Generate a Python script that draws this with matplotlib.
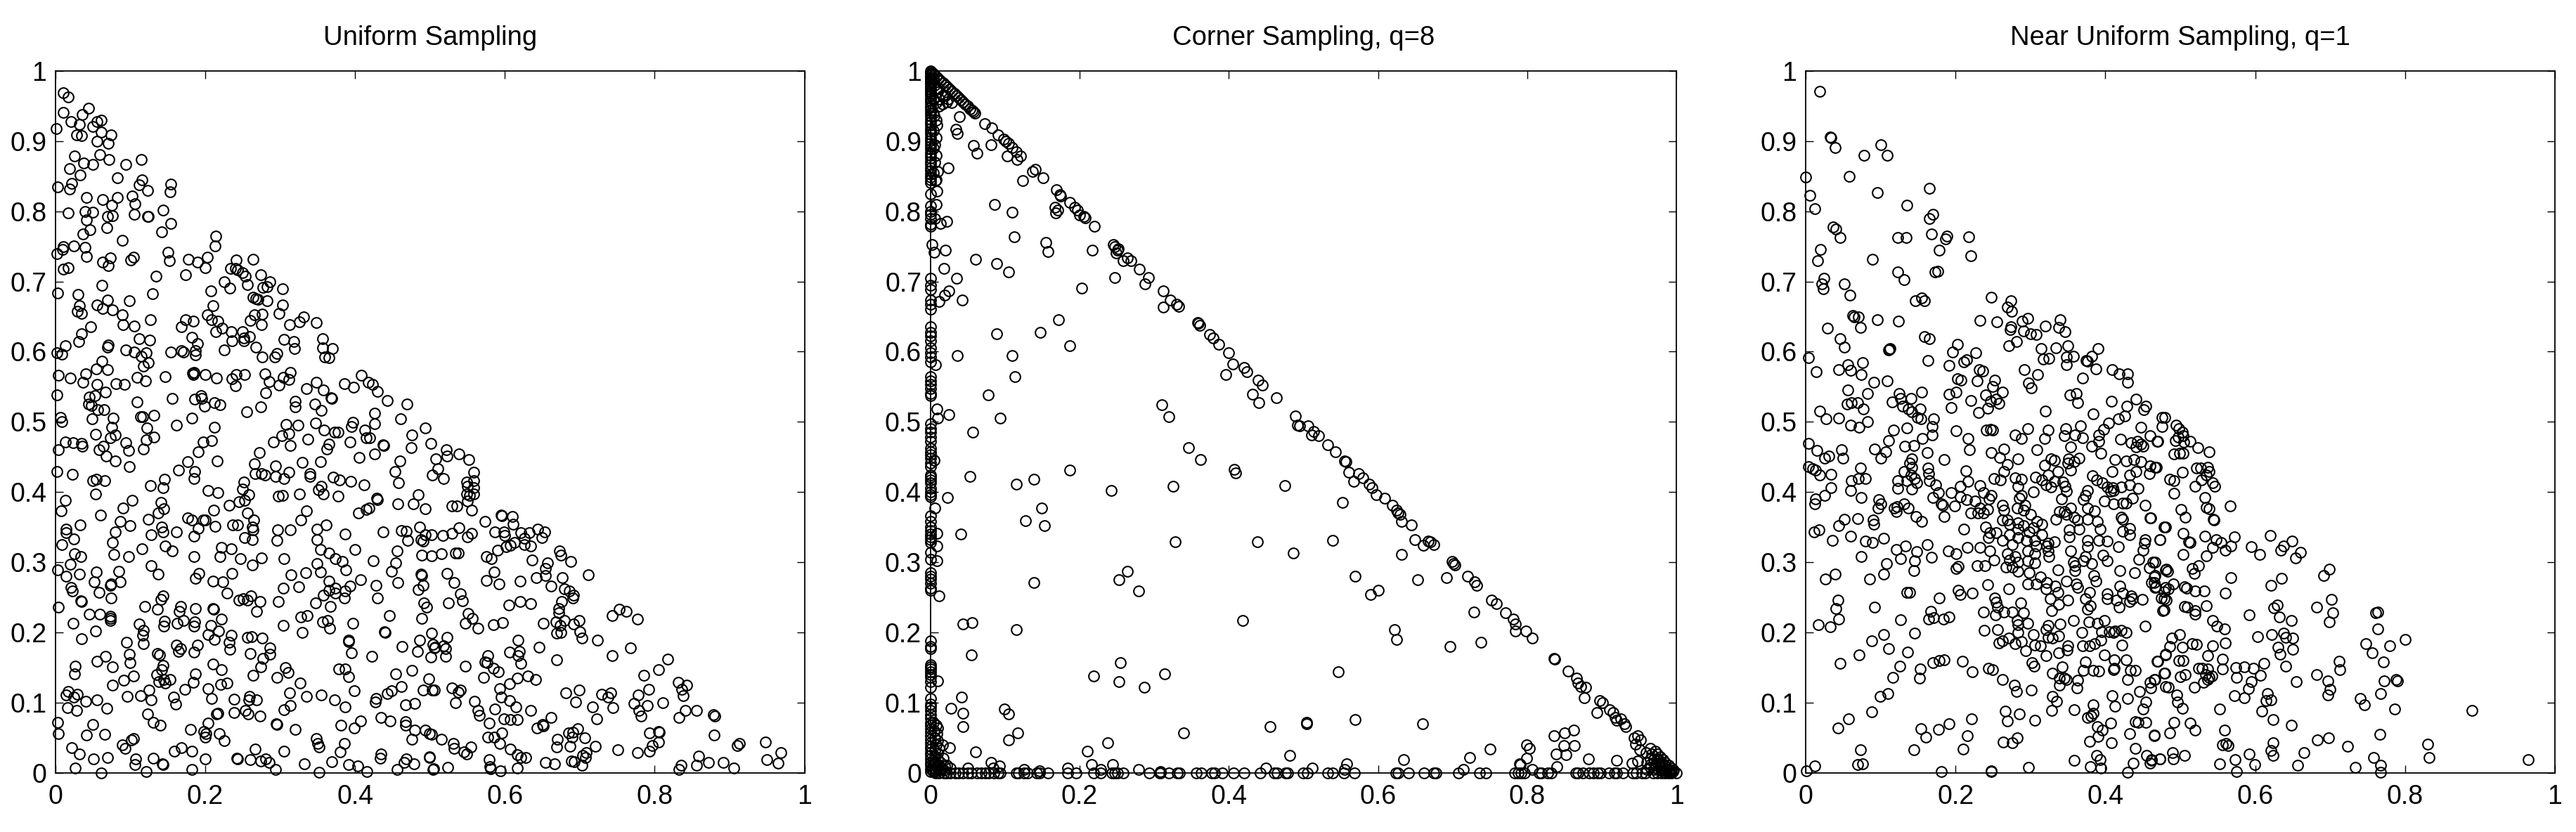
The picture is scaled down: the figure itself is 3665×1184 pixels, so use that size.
import numpy as np
from matplotlib import pyplot as plt

plt.rcParams['font.family'] = ['Liberation Sans', 'DejaVu Sans']

titles = ['Uniform Sampling', 'Corner Sampling, q=8', 'Near Uniform Sampling, q=1']
x_ticks = [0, 0.2, 0.4, 0.6, 0.8, 1]
y_ticks = [0, 0.1, 0.2, 0.3, 0.4, 0.5, 0.6, 0.7, 0.8, 0.9, 1]
x_tick_labels = ['0', '0.2', '0.4', '0.6', '0.8', '1']
y_tick_labels = ['0', '0.1', '0.2', '0.3', '0.4', '0.5', '0.6', '0.7', '0.8', '0.9', '1']

# values (x, y)
uniform_pts = [
(.011,.969),(.017,.963),(.011,.941),(.036,.938),(.044,.947),(.021,.928),(.032,.924),(.001,.918),(.028,.909),(.035,.908),
(.050,.921),(.056,.928),(.061,.930),(.061,.913),(.074,.909),(.056,.900),(.071,.897),(.059,.881),(.072,.874),(.026,.879),
(.038,.869),(.050,.867),(.019,.861),(.033,.852),(.022,.840),(.019,.832),(.003,.835),(.094,.867),(.115,.874),(.083,.848),
(.116,.845),(.112,.838),(.123,.830),(.154,.839),(.153,.828),(.103,.822),(.106,.811),(.042,.820),(.063,.817),(.083,.820),
(.075,.809),(.017,.798),(.040,.800),(.050,.799),(.070,.793),(.076,.794),(.105,.796),(.123,.793),(.124,.793),(.144,.802),
(.042,.788),(.069,.777),(.154,.783),(.046,.774),(.037,.768),(.142,.771),(.089,.759),(.214,.765),(.213,.751),(.025,.751),
(.040,.749),(.011,.750),(.010,.746),(.002,.740),(.042,.736),(.150,.742),(.073,.734),(.104,.735),(.101,.731),(.063,.728),
(.071,.723),(.152,.730),(.178,.732),(.190,.728),(.203,.735),(.200,.720),(.017,.720),(.011,.718),(.241,.731),(.264,.732),
(.234,.719),(.240,.719),(.243,.717),(.250,.713),(.254,.708),(.174,.710),(.134,.708),(.274,.710),(.286,.700),(.225,.700),
(.256,.696),(.233,.691),(.283,.693),(.277,.692),(.303,.690),(.062,.695),(.003,.684),(.030,.682),(.208,.687),(.130,.683),
(.264,.678),(.268,.676),(.270,.675),(.283,.673),(.070,.674),(.099,.673),(.032,.666),(.056,.667),(.063,.662),(.076,.660),
(.210,.666),(.303,.667),(.299,.655),(.029,.658),(.035,.655),(.089,.653),(.203,.653),(.266,.653),(.276,.654),(.209,.646),
(.174,.646),(.184,.644),(.127,.646),(.217,.644),(.260,.645),(.331,.650),(.326,.642),(.348,.641),(.313,.638),(.275,.638),
(.090,.638),(.105,.636),(.168,.635),(.047,.635),(.223,.633),(.214,.628),(.235,.628),(.250,.628),(.035,.625),(.182,.620),
(.112,.618),(.259,.621),(.252,.619),(.252,.615),(.236,.615),(.031,.614),(.126,.616),(.305,.617),(.357,.618),(.318,.614),
(.013,.608),(.071,.609),(.070,.606),(.190,.611),(.002,.598),(.009,.596),(.319,.604),(.357,.605),(.370,.604),(.225,.602),
(.268,.606),(.094,.602),(.105,.599),(.121,.598),(.115,.593),(.154,.599),(.168,.601),(.171,.599),(.187,.601),(.187,.595),
(.296,.597),(.293,.592),(.276,.592),(.360,.592),(.365,.591),(.062,.586),(.124,.584),(.118,.579),(.055,.575),(.070,.574),
(.041,.568),(.185,.570),(.184,.567),(.183,.569),(.200,.567),(.004,.566),(.020,.562),(.147,.564),(.109,.563),(.215,.562),
(.241,.567),(.253,.567),(.236,.561),(.280,.568),(.314,.570),(.304,.563),(.408,.566),(.312,.560),(.285,.557),(.037,.556),
(.120,.558),(.056,.553),(.081,.554),(.092,.553),(.240,.551),(.299,.552),(.348,.556),(.386,.554),(.418,.556),(.398,.549),
(.423,.553),(.335,.547),(.358,.545),(.430,.543),(.067,.542),(.053,.537),(.281,.541),(.002,.538),(.045,.535),(.368,.534),
(.369,.533),(.156,.533),(.194,.537),(.195,.533),(.186,.532),(.443,.530),(.109,.528),(.212,.527),(.199,.522),(.220,.524),
(.320,.529),(.320,.521),(.346,.525),(.469,.525),(.044,.525),(.048,.523),(.057,.517),(.065,.517),(.355,.516),(.274,.521),
(.255,.514),(.426,.512),(.114,.507),(.132,.509),(.049,.504),(.007,.506),(.009,.500),(.077,.505),(.117,.507),(.122,.491),
(.162,.495),(.182,.505),(.212,.492),(.075,.492),(.054,.482),(.080,.481),(.073,.477),(.132,.478),(.121,.474),(.013,.471),
(.024,.470),(.035,.469),(.036,.465),(.094,.470),(.004,.460),(.064,.465),(.058,.460),(.098,.459),(.118,.461),(.068,.451),
(.080,.444),(.197,.471),(.209,.473),(.191,.457),(.177,.443),(.216,.444),(.099,.436),(.272,.456),(.266,.440),(.291,.471),
(.302,.480),(.308,.496),(.312,.483),(.314,.466),(.324,.495),(.337,.475),(.347,.498),(.359,.488),(.365,.468),(.362,.461),
(.373,.485),(.377,.485),(.330,.442),(.354,.443),(.397,.499),(.395,.493),(.393,.471),(.406,.449),(.413,.488),(.415,.477),
(.420,.477),(.426,.497),(.426,.454),(.437,.467),(.438,.466),(.461,.504),(.476,.481),(.475,.463),(.494,.491),(.501,.469),
(.460,.444),(.453,.429),(.458,.413),(.508,.447),(.503,.424),(.002,.429),(.023,.425),(.050,.416),(.055,.418),(.066,.416),
(.054,.397),(.164,.431),(.186,.429),(.185,.419),(.146,.418),(.144,.406),(.127,.409),(.204,.402),(.217,.399),(.252,.414),
(.250,.404),(.258,.396),(.253,.388),(.245,.386),(.232,.381),(.267,.426),(.275,.426),(.280,.424),(.294,.437),(.294,.422),
(.305,.419),(.312,.428),(.298,.394),(.303,.395),(.326,.397),(.340,.426),(.340,.422),(.351,.403),(.355,.408),(.358,.397),
(.371,.421),(.379,.417),(.377,.394),(.394,.415),(.412,.410),(.429,.391),(.430,.389),(.419,.377),(.415,.375),(.405,.370),
(.457,.383),(.478,.383),(.484,.396),(.494,.376),(.335,.373),(.328,.360),(.013,.388),(.008,.373),(.060,.367),(.090,.377),
(.103,.388),(.141,.385),(.145,.376),(.137,.370),(.211,.374),(.124,.361),(.087,.358),(.177,.363),(.182,.360),(.197,.360),
(.200,.360),(.256,.370),(.265,.360),(.263,.350),(.264,.346),(.033,.353),(.100,.352),(.237,.353),(.243,.353),(.213,.351),
(.191,.348),(.142,.350),(.144,.343),(.162,.343),(.080,.343),(.014,.347),(.014,.342),(.128,.339),(.185,.337),(.297,.346),
(.314,.346),(.349,.347),(.387,.340),(.361,.353),(.437,.343),(.462,.345),(.468,.344),(.486,.350),(.494,.339),(.502,.339),
(.470,.331),(.488,.332),(.491,.330),(.025,.333),(.009,.325),(.076,.328),(.253,.335),(.263,.332),(.296,.331),(.349,.332),
(.147,.323),(.156,.316),(.116,.319),(.222,.321),(.235,.319),(.354,.318),(.400,.318),(.456,.316),(.026,.312),(.078,.311),
(.034,.308),(.098,.308),(.185,.308),(.220,.308),(.247,.305),(.275,.306),(.305,.305),(.365,.313),(.374,.305),(.383,.301),
(.424,.302),(.489,.310),(.502,.309),(.020,.297),(.128,.295),(.263,.296),(.349,.298),(.454,.299),(.388,.289),(.003,.289),
(.014,.280),(.032,.283),(.055,.286),(.085,.287),(.137,.283),(.192,.284),(.187,.277),(.236,.284),(.315,.282),(.334,.285),
(.354,.286),(.449,.287),(.488,.283),(.489,.281),(.052,.272),(.073,.267),(.074,.269),(.087,.272),(.210,.273),(.224,.272),
(.365,.273),(.407,.275),(.457,.271),(.428,.267),(.491,.267),(.484,.261),(.393,.266),(.325,.265),(.304,.263),(.021,.264),
(.023,.259),(.058,.257),(.229,.256),(.374,.263),(.365,.260),(.374,.256),(.358,.253),(.387,.259),(.386,.249),(.144,.252),
(.141,.247),(.261,.252),(.074,.249),(.430,.249),(.245,.246),(.251,.248),(.256,.246),(.034,.245),(.035,.244),(.273,.244),
(.298,.244),(.347,.242),(.492,.242),(.496,.236),(.004,.236),(.119,.237),(.136,.233),(.167,.237),(.165,.230),(.187,.234),
(.210,.234),(.211,.233),(.367,.237),(.269,.230),(.045,.226),(.059,.226),(.073,.223),(.073,.220),(.073,.217),(.328,.222),
(.336,.224),(.446,.224),(.222,.219),(.171,.217),(.163,.213),(.186,.215),(.146,.216),(.489,.220),(.357,.215),(.363,.217),
(.397,.213),(.024,.213),(.112,.212),(.145,.209),(.185,.209),(.208,.210),(.304,.210),(.366,.206),(.439,.201),(.440,.200),
(.118,.203),(.218,.202),(.054,.202),(.330,.200),(.502,.199),(.117,.196),(.204,.197),(.235,.196),(.212,.190),(.256,.193),
(.262,.194),(.276,.192),(.035,.191),(.391,.189),(.095,.186),(.118,.184),(.232,.186),(.486,.189),(.391,.187),(.162,.182),
(.190,.182),(.167,.177),(.164,.173),(.286,.178),(.233,.176),(.185,.172),(.463,.180),(.507,.179),(.483,.173),(.260,.170),
(.099,.169),(.136,.170),(.139,.168),(.395,.171),(.286,.169),(.067,.166),(.422,.166),(.501,.165),(.277,.163),(.056,.159),
(.100,.157),(.144,.153),(.027,.152),(.274,.151),(.076,.151),(.210,.155),(.026,.141),(.307,.150),(.311,.143),(.378,.148),
(.387,.148),(.391,.137),(.222,.147),(.476,.146),(.142,.147),(.135,.140),(.104,.138),(.187,.141),(.264,.139),(.296,.136),
(.454,.141),(.145,.133),(.153,.133),(.138,.130),(.147,.128),(.091,.132),(.498,.134),(.184,.129),(.221,.126),(.229,.128),
(.076,.125),(.327,.128),(.462,.123),(.204,.120),(.173,.119),(.125,.118),(.491,.118),(.313,.114),(.399,.117),(.449,.117),
(.443,.113),(.503,.118),(.017,.116),(.014,.111),(.029,.112),(.025,.108),(.114,.110),(.096,.109),(.158,.108),(.259,.109),
(.258,.104),(.269,.104),(.239,.105),(.355,.111),(.335,.109),(.209,.106),(.428,.106),(.427,.101),(.373,.104),(.128,.104),
(.041,.102),(.056,.104),(.161,.098),(.480,.099),(.467,.097),(.016,.093),(.069,.092),(.028,.089),(.387,.094),(.314,.096),
(.305,.090),(.254,.089),(.123,.084),(.239,.086),(.257,.084),(.215,.084),(.217,.085),(.273,.081),(.435,.079),(.447,.074),
(.407,.074),(.003,.072),(.131,.072),(.204,.071),(.467,.073),(.467,.068),(.050,.069),(.140,.068),(.295,.070),(.296,.069),
(.381,.068),(.399,.064),(.180,.062),(.320,.062),(.480,.061),(.494,.061),(.499,.056),(.502,.055),(.476,.048),(.004,.056),
(.066,.055),(.042,.054),(.198,.059),(.201,.056),(.200,.051),(.219,.056),(.225,.046),(.104,.049),(.102,.047),(.348,.049),
(.350,.042),(.352,.037),(.089,.040),(.093,.035),(.386,.042),(.022,.036),(.032,.027),(.159,.031),(.168,.036),(.182,.031),
(.267,.034),(.305,.031),(.380,.030),(.051,.020),(.070,.022),(.107,.020),(.131,.021),(.200,.020),(.242,.021),(.243,.020),
(.260,.019),(.274,.017),(.281,.020),(.285,.015),(.435,.027),(.434,.021),(.468,.020),(.499,.023),(.106,.012),(.143,.013),
(.144,.012),(.332,.013),(.369,.016),(.391,.012),(.404,.010),(.466,.015),(.479,.013),(.027,.007),(.061,.000),(.121,.002),
(.182,.005),(.294,.005),(.352,.001),(.416,.002),(.456,.005),(.504,.005),(.522,.460),(.523,.451),(.539,.454),(.552,.446),
(.511,.433),(.518,.419),(.558,.428),(.549,.414),(.558,.416),(.550,.408),(.558,.406),(.549,.397),(.558,.397),(.553,.395),
(.550,.387),(.556,.374),(.529,.380),(.536,.380),(.573,.358),(.595,.367),(.596,.366),(.610,.365),(.611,.354),(.539,.349),
(.529,.341),(.556,.341),(.550,.336),(.517,.338),(.587,.343),(.599,.343),(.600,.338),(.621,.342),(.633,.342),(.644,.347),
(.653,.343),(.649,.335),(.626,.334),(.626,.325),(.634,.323),(.613,.328),(.607,.324),(.602,.322),(.590,.317),(.673,.316),
(.675,.310),(.688,.301),(.515,.312),(.534,.313),(.538,.313),(.575,.308),(.582,.305),(.636,.303),(.657,.299),(.654,.291),
(.711,.282),(.523,.284),(.586,.286),(.642,.278),(.654,.281),(.677,.278),(.575,.274),(.592,.269),(.620,.273),(.532,.271),
(.662,.266),(.679,.262),(.686,.259),(.692,.253),(.691,.249),(.541,.255),(.543,.245),(.525,.242),(.676,.244),(.605,.239),
(.620,.244),(.634,.241),(.753,.233),(.762,.230),(.743,.224),(.777,.219),(.672,.234),(.672,.228),(.551,.227),(.557,.220),
(.547,.213),(.564,.206),(.585,.211),(.597,.214),(.651,.213),(.668,.215),(.679,.217),(.674,.210),(.699,.217),(.692,.212),
(.700,.201),(.703,.192),(.669,.199),(.675,.200),(.724,.189),(.523,.193),(.618,.189),(.768,.178),(.646,.179),(.504,.183),
(.506,.178),(.518,.181),(.521,.177),(.606,.172),(.619,.173),(.743,.167),(.521,.166),(.618,.167),(.577,.167),(.669,.161),
(.573,.158),(.576,.157),(.817,.162),(.621,.156),(.547,.152),(.585,.149),(.591,.144),(.805,.147),(.631,.138),(.641,.133),
(.617,.135),(.572,.136),(.606,.127),(.785,.139),(.831,.129),(.843,.125),(.836,.119),(.838,.110),(.593,.120),(.792,.119),
(.529,.121),(.541,.118),(.538,.115),(.506,.118),(.699,.118),(.681,.114),(.729,.112),(.741,.114),(.738,.108),(.595,.108),
(.778,.111),(.559,.102),(.534,.100),(.606,.103),(.694,.101),(.772,.099),(.811,.100),(.790,.096),(.615,.094),(.717,.094),
(.744,.093),(.779,.089),(.564,.089),(.587,.091),(.634,.089),(.841,.089),(.856,.089),(.566,.082),(.782,.081),(.832,.079),
(.878,.083),(.880,.081),(.662,.079),(.599,.077),(.607,.076),(.617,.076),(.723,.077),(.579,.071),(.650,.069),(.643,.064),
(.651,.067),(.805,.059),(.806,.058),(.697,.063),(.793,.057),(.685,.057),(.691,.058),(.690,.051),(.596,.057),(.707,.050),
(.515,.048),(.577,.051),(.586,.051),(.670,.048),(.879,.054),(.805,.044),(.913,.042),(.910,.039),(.948,.044),(.531,.042),
(.532,.035),(.555,.037),(.593,.042),(.669,.037),(.687,.038),(.721,.038),(.797,.039),(.607,.034),(.751,.033),(.777,.029),
(.793,.031),(.545,.030),(.549,.027),(.968,.029),(.617,.026),(.621,.022),(.628,.022),(.709,.029),(.704,.025),(.708,.022),
(.859,.024),(.499,.022),(.579,.019),(.950,.019),(.872,.015),(.891,.015),(.965,.014),(.654,.015),(.666,.013),(.689,.017),
(.693,.016),(.835,.011),(.856,.011),(.524,.008),(.703,.011),(.580,.009),(.906,.007),(.505,.006),(.617,.007),(.581,.006),
(.832,.005),(.594,.003),
]

# corner panel: points sitting on the left edge (y), on the bottom edge (x), and the rest
corner_left_y = [
1.000,.998,.996,.994,.991,.989,.986,.983,.980,.977,.974,.971,.968,.965,.961,.958,.955,.951,.948,.944,.940,.936,.931,.927,
.923,.918,.914,.910,.905,.901,.897,.893,.889,.884,.880,.876,.871,.867,.862,.858,.853,.849,.845,.841,.825,.808,.800,.796,
.790,.782,.779,.705,.695,.689,.674,.668,.661,.635,.627,.622,.615,.605,.598,.592,.585,.564,.558,.553,.547,.540,.537,.497,
.490,.485,.478,.472,.462,.457,.453,.448,.441,.436,.424,.421,.417,.413,.405,.400,.396,.393,.366,.358,.350,.345,.340,.336,
.332,.328,.314,.304,.285,.280,.276,.270,.263,.260,.188,.180,.177,.154,.151,.148,.144,.140,.136,.130,.122,.106,.098,.094,
.089,.083,.078,.072,.068,.063,.058,.053,.048,.043,.038,.034,.029,.025,.020,.015,.011,.006,.002,
]
corner_bottom_x = [
.007,.012,.018,.022,.027,.033,.038,.044,.050,.055,.063,.068,.074,.079,.085,.091,.094,.115,.118,.126,.130,.143,.146,.158,
.184,.195,.219,.228,.243,.247,.251,.258,.293,.307,.308,.320,.331,.334,.356,.363,.377,.381,.391,.406,.420,.442,.461,.465,
.476,.479,.500,.505,.533,.539,.554,.568,.624,.627,.641,.662,.675,.678,.708,.736,.744,.783,.788,.792,.796,.816,.819,.827,
.832,.865,.868,.874,.883,.889,.894,.898,.909,.917,.920,.928,.941,.946,.954,.958,.969,.974,.980,.985,.989,.993,1.000,
]
corner_pts = [
(.003,.997),(.005,.995),(.008,.992),(.011,.989),(.014,.986),(.017,.983),(.020,.980),(.023,.977),(.026,.974),(.029,.971),
(.032,.968),(.035,.965),(.038,.962),(.041,.959),(.044,.956),(.047,.953),(.050,.950),(.053,.946),(.056,.944),(.058,.942),
(.060,.940),(.022,.956),(.016,.953),(.029,.955),(.009,.923),(.005,.936),(.039,.935),(.034,.917),(.036,.911),(.058,.894),
(.063,.883),(.081,.895),(.073,.925),(.082,.919),(.091,.909),(.098,.903),(.101,.900),(.105,.897),(.110,.891),(.115,.885),
(.121,.879),(.116,.874),(.103,.879),(.141,.860),(.137,.857),(.151,.848),(.124,.844),(.024,.862),(.010,.857),(.007,.844),
(.009,.829),(.169,.831),(.174,.824),(.175,.822),(.187,.813),(.193,.806),(.197,.802),(.200,.795),(.208,.791),(.206,.793),
(.220,.779),(.167,.806),(.171,.802),(.168,.798),(.086,.810),(.110,.799),(.014,.783),(.022,.786),(.112,.764),(.155,.756),
(.158,.743),(.217,.745),(.020,.745),(.002,.753),(.005,.742),(.061,.732),(.089,.726),(.105,.714),(.018,.719),(.245,.753),
(.247,.750),(.251,.745),(.252,.747),(.249,.741),(.258,.730),(.264,.734),(.269,.730),(.280,.718),(.292,.706),(.288,.697),
(.247,.706),(.203,.691),(.035,.705),(.025,.687),(.019,.681),(.012,.672),(.043,.674),(.312,.687),(.312,.664),(.322,.674),
(.330,.668),(.333,.665),(.358,.641),(.359,.640),(.361,.637),(.374,.624),(.379,.619),(.387,.610),(.400,.598),(.405,.582),
(.420,.577),(.424,.571),(.396,.567),(.439,.559),(.445,.552),(.432,.539),(.440,.527),(.464,.534),(.489,.508),(.172,.646),
(.147,.627),(.089,.625),(.187,.608),(.036,.594),(.110,.594),(.113,.564),(.078,.538),(.310,.524),(.320,.507),(.009,.518),
(.007,.581),(.010,.505),(.025,.510),(.094,.505),(.057,.485),(.346,.463),(.362,.446),(.407,.432),(.409,.427),(.187,.431),
(.053,.422),(.139,.418),(.115,.411),(.242,.402),(.325,.408),(.475,.409),(.023,.392),(.149,.377),(.128,.359),(.153,.352),
(.041,.340),(.328,.329),(.438,.329),(.486,.313),(.139,.271),(.264,.287),(.253,.275),(.279,.259),(.044,.212),(.056,.214),
(.115,.204),(.419,.217),(.055,.168),(.255,.157),(.219,.138),(.253,.130),(.287,.122),(.314,.141),(.042,.108),(.028,.092),
(.044,.085),(.099,.091),(.105,.084),(.044,.066),(.117,.057),(.105,.047),(.339,.057),(.455,.066),(.238,.043),(.210,.031),
(.061,.030),(.482,.025),(.005,.445),(.006,.377),(.009,.341),(.009,.323),(.009,.302),(.012,.252),(.010,.131),(.016,.040),
(.026,.036),(.017,.021),(.022,.011),(.027,.007),(.050,.007),(.081,.015),(.084,.007),(.093,.010),(.126,.005),(.146,.003),
(.184,.007),(.216,.012),(.228,.005),(.244,.012),(.279,.005),(.308,.002),(.450,.007),(.492,.495),(.495,.494),(.506,.494),
(.514,.486),(.511,.481),(.520,.480),(.533,.467),(.543,.457),(.555,.444),(.557,.443),(.561,.428),(.574,.426),(.567,.415),
(.580,.420),(.588,.411),(.592,.406),(.598,.396),(.609,.391),(.619,.381),(.625,.374),(.627,.370),(.630,.368),(.631,.358),
(.645,.353),(.649,.332),(.661,.324),(.667,.330),(.670,.329),(.675,.325),(.699,.301),(.701,.298),(.703,.296),(.720,.280),
(.729,.272),(.732,.267),(.752,.246),(.759,.241),(.771,.228),(.781,.219),(.784,.212),(.784,.202),(.798,.202),(.807,.192),
(.836,.163),(.837,.162),(.855,.145),(.866,.135),(.868,.128),(.878,.122),(.872,.123),(.876,.107),(.897,.103),(.901,.100),
(.893,.086),(.910,.090),(.915,.086),(.918,.079),(.920,.075),(.925,.077),(.930,.070),(.932,.066),(.948,.053),(.943,.050),
(.952,.047),(.945,.041),(.951,.033),(.965,.035),(.959,.029),(.967,.027),(.971,.031),(.974,.027),(.978,.023),(.982,.019),
(.985,.015),(.989,.011),(.993,.007),(.996,.004),(.974,.019),(.971,.011),(.978,.013),(.985,.005),(.982,.007),(.552,.385),
(.539,.331),(.631,.311),(.653,.275),(.692,.278),(.569,.280),(.600,.260),(.590,.254),(.728,.229),(.622,.204),(.625,.190),
(.696,.180),(.738,.186),(.547,.144),(.504,.070),(.504,.072),(.569,.076),(.660,.070),(.750,.034),(.723,.022),(.634,.019),
(.558,.013),(.512,.007),(.862,.061),(.850,.057),(.836,.053),(.849,.039),(.863,.039),(.799,.040),(.803,.035),(.799,.021),
(.839,.027),(.852,.026),(.840,.009),(.790,.013),(.791,.012),(.882,.020),(.920,.018),(.940,.014),(.948,.017),(.807,.005),
(.714,.005),(.555,.005),
]
# the solid clumps at the three corners
corner_clump_pts = [
(.002,.004),(.004,.002),(.003,.008),(.006,.005),(.008,.003),(.005,.012),(.009,.008),(.012,.004),(.004,.018),(.007,.015),
(.011,.012),(.015,.007),(.018,.004),(.006,.024),(.010,.020),(.014,.015),(.019,.010),(.006,.032),(.010,.028),(.008,.040),
(.012,.035),(.006,.050),(.010,.046),(.005,.060),(.009,.056),(.004,.072),(.008,.068),(.010,.064),(.004,.990),(.006,.980),
(.008,.975),(.010,.970),(.004,.960),(.008,.955),(.012,.960),(.004,.940),(.008,.930),(.004,.915),(.008,.905),(.004,.890),
(.008,.880),(.006,.870),(.004,.855),(.008,.845),(.012,.950),(.016,.965),(.012,.975),(.020,.965),(.024,.960),(.006,.895),
(.008,.810),(.006,.790),(.990,.002),(.995,.002),(.985,.010),(.980,.003),(.975,.005),(.970,.005),(.965,.008),(.990,.005),
(.992,.003),(.975,.012),(.980,.015),(.985,.003),(.960,.015),(.965,.020),(.970,.020),(.975,.020),(.965,.012),(.960,.005),
(.970,.015),(.980,.008),
]

near_uniform_pts = [
(.019,.971),(.033,.906),(.034,.905),(.039,.891),(.100,.895),(.078,.880),(.109,.880),(.000,.849),(.058,.850),(.096,.827),
(.006,.823),(.165,.833),(.135,.809),(.012,.804),(.170,.796),(.165,.790),(.037,.778),(.040,.775),(.046,.763),(.123,.763),
(.134,.763),(.168,.768),(.189,.765),(.187,.761),(.218,.764),(.178,.745),(.220,.737),(.020,.746),(.016,.730),(.089,.732),
(.123,.714),(.131,.703),(.176,.715),(.173,.714),(.024,.705),(.022,.697),(.023,.690),(.052,.697),(.059,.681),(.248,.678),
(.274,.673),(.146,.673),(.155,.677),(.159,.673),(.269,.664),(.275,.658),(.063,.652),(.065,.650),(.070,.650),(.096,.646),
(.124,.644),(.073,.634),(.029,.633),(.233,.645),(.255,.642),(.289,.644),(.296,.648),(.340,.646),(.338,.634),(.320,.636),
(.274,.635),(.273,.631),(.291,.629),(.346,.628),(.300,.625),(.308,.624),(.159,.621),(.165,.618),(.046,.618),(.052,.606),
(.203,.610),(.281,.614),(.271,.608),(.350,.608),(.314,.604),(.334,.605),(.390,.604),(.112,.603),(.111,.602),(.113,.604),
(.196,.599),(.227,.598),(.004,.591),(.382,.593),(.357,.593),(.348,.592),(.317,.589),(.325,.590),(.211,.585),(.215,.588),
(.376,.586),(.374,.587),(.163,.587),(.076,.584),(.056,.581),(.348,.581),(.191,.580),(.044,.574),(.060,.573),(.014,.571),
(.074,.567),(.387,.575),(.232,.574),(.236,.572),(.292,.574),(.409,.574),(.418,.568),(.430,.568),(.310,.567),(.229,.558),
(.203,.561),(.207,.559),(.252,.559),(.370,.562),(.297,.555),(.301,.548),(.091,.556),(.109,.558),(.430,.556),(.056,.545),
(.250,.550),(.155,.542),(.201,.542),(.083,.540),(.125,.540),(.191,.539),(.263,.542),(.240,.538),(.361,.540),(.353,.538),
(.127,.533),(.141,.533),(.254,.532),(.220,.530),(.441,.532),(.408,.529),(.247,.529),(.055,.525),(.061,.527),(.069,.527),
(.115,.528),(.129,.522),(.258,.526),(.363,.527),(.429,.522),(.454,.522),(.451,.517),(.077,.518),(.153,.518),(.137,.518),
(.194,.520),(.243,.519),(.142,.514),(.019,.515),(.231,.513),(.320,.515),(.384,.511),(.149,.506),(.171,.504),(.044,.505),
(.027,.504),(.154,.504),(.426,.508),(.476,.506),(.060,.495),(.071,.492),(.083,.500),(.117,.488),(.135,.491),(.169,.493),
(.169,.481),(.201,.487),(.241,.488),(.247,.489),(.250,.488),(.296,.490),(.324,.488),(.280,.481),(.288,.476),(.347,.490),
(.345,.480),(.367,.494),(.359,.481),(.370,.477),(.391,.481),(.398,.489),(.391,.472),(.404,.498),(.417,.504),(.447,.492),
(.460,.480),(.420,.475),(.319,.476),(.156,.476),(.111,.473),(.217,.476),(.004,.469),(.015,.459),(.048,.460),(.092,.461),
(.132,.465),(.144,.466),(.219,.460),(.309,.460),(.354,.464),(.382,.465),(.265,.461),(.107,.457),(.162,.456),(.394,.455),
(.434,.470),(.443,.472),(.447,.468),(.441,.464),(.450,.465),(.470,.472),(.031,.451),(.025,.448),(.050,.448),(.100,.448),
(.248,.456),(.259,.449),(.283,.447),(.185,.446),(.142,.447),(.327,.447),(.332,.445),(.351,.447),(.365,.448),(.413,.446),
(.438,.446),(.350,.441),(.358,.443),(.269,.439),(.139,.441),(.142,.435),(.319,.438),(.447,.443),(.428,.444),(.460,.437),
(.468,.435),(.004,.436),(.009,.433),(.013,.431),(.073,.434),(.163,.434),(.019,.424),(.034,.425),(.131,.429),(.214,.430),
(.337,.429),(.354,.431),(.409,.429),(.441,.429),(.265,.429),(.164,.426),(.307,.421),(.324,.424),(.383,.423),(.432,.424),
(.459,.426),(.080,.419),(.070,.419),(.141,.424),(.145,.419),(.165,.416),(.251,.419),(.260,.417),(.280,.420),(.288,.418),
(.315,.417),(.332,.415),(.343,.414),(.388,.417),(.396,.413),(.061,.416),(.123,.416),(.135,.416),(.148,.413),(.217,.415),
(.206,.408),(.283,.408),(.321,.410),(.327,.407),(.346,.408),(.402,.407),(.410,.406),(.421,.407),(.432,.410),(.233,.409),
(.034,.406),(.123,.405),(.142,.404),(.060,.402),(.174,.410),(.411,.402),(.407,.401),(.444,.405),(.376,.402),(.348,.401),
(.177,.399),(.194,.399),(.237,.399),(.304,.400),(.373,.395),(.288,.395),(.025,.395),(.074,.392),(.170,.392),(.206,.393),
(.248,.395),(.285,.391),(.341,.390),(.436,.391),(.013,.390),(.012,.383),(.098,.389),(.215,.389),(.226,.387),(.245,.390),
(.399,.387),(.411,.383),(.423,.384),(.428,.384),(.371,.389),(.100,.383),(.131,.383),(.181,.383),(.183,.381),(.199,.380),
(.122,.379),(.118,.377),(.263,.381),(.282,.377),(.293,.381),(.453,.381),(.233,.377),(.243,.375),(.137,.377),(.097,.377),
(.376,.377),(.386,.373),(.220,.370),(.230,.370),(.237,.370),(.265,.374),(.291,.374),(.345,.372),(.354,.377),(.339,.372),
(.121,.372),(.147,.365),(.185,.365),(.300,.368),(.348,.368),(.421,.364),(.460,.363),(.423,.361),(.358,.364),(.363,.360),
(.334,.361),(.155,.358),(.052,.361),(.069,.362),(.090,.360),(.263,.360),(.269,.360),(.309,.358),(.283,.356),(.315,.354),
(.376,.361),(.389,.358),(.044,.352),(.091,.354),(.272,.354),(.291,.352),(.304,.349),(.478,.350),(.240,.350),(.211,.347),
(.365,.347),(.432,.348),(.352,.346),(.393,.347),(.011,.343),(.018,.346),(.423,.344),(.283,.347),(.246,.342),(.254,.342),
(.298,.343),(.315,.339),(.432,.339),(.352,.336),(.272,.339),(.060,.337),(.036,.331),(.104,.334),(.244,.335),(.263,.331),
(.283,.335),(.295,.331),(.306,.331),(.324,.327),(.332,.329),(.376,.331),(.391,.331),(.402,.330),(.453,.332),(.452,.327),
(.473,.332),(.080,.330),(.089,.328),(.276,.325),(.308,.323),(.322,.323),(.133,.323),(.162,.325),(.121,.318),(.233,.321),
(.216,.321),(.190,.316),(.417,.322),(.376,.322),(.354,.316),(.148,.315),(.450,.317),(.246,.316),(.324,.316),(.269,.312),
(.296,.316),(.306,.312),(.280,.308),(.201,.312),(.397,.310),(.074,.308),(.127,.305),(.168,.307),(.325,.308),(.373,.308),
(.251,.303),(.272,.303),(.296,.302),(.371,.302),(.402,.302),(.445,.304),(.145,.302),(.283,.300),(.306,.299),(.357,.300),
(.108,.298),(.382,.298),(.463,.300),(.229,.295),(.239,.295),(.267,.293),(.276,.293),(.359,.295),(.204,.294),(.201,.291),
(.144,.288),(.337,.289),(.419,.288),(.359,.288),(.459,.292),(.283,.287),(.298,.285),(.039,.283),(.104,.283),(.439,.285),
(.466,.281),(.480,.289),(.313,.279),(.385,.281),(.026,.276),(.085,.276),(.348,.273),(.322,.271),(.387,.273),(.296,.269),
(.243,.268),(.308,.269),(.462,.271),(.361,.269),(.419,.266),(.333,.266),(.321,.262),(.363,.264),(.271,.262),(.467,.265),
(.204,.260),(.206,.254),(.222,.256),(.135,.257),(.139,.257),(.337,.257),(.379,.257),(.402,.255),(.423,.256),(.434,.252),
(.478,.258),(.252,.249),(.326,.248),(.350,.246),(.373,.248),(.402,.248),(.432,.244),(.436,.248),(.449,.247),(.478,.248),
(.178,.249),(.043,.246),(.254,.243),(.287,.242),(.338,.240),(.415,.246),(.092,.236),(.040,.234),(.256,.236),(.418,.236),
(.380,.238),(.328,.231),(.376,.233),(.478,.232),(.167,.230),(.237,.229),(.265,.229),(.276,.229),(.291,.228),(.253,.225),
(.044,.219),(.127,.218),(.164,.219),(.171,.221),(.184,.219),(.191,.222),(.282,.217),(.357,.217),(.378,.215),(.399,.217),
(.017,.211),(.296,.213),(.340,.212),(.389,.213),(.033,.208),(.453,.209),(.324,.210),(.283,.211),(.238,.203),(.256,.204),
(.321,.204),(.413,.202),(.369,.200),(.395,.201),(.405,.201),(.421,.203),(.428,.200),(.411,.200),(.104,.197),(.145,.199),
(.283,.200),(.304,.197),(.338,.195),(.324,.193),(.329,.192),(.271,.192),(.088,.188),(.263,.188),(.258,.185),(.280,.184),
(.288,.187),(.394,.189),(.350,.181),(.306,.182),(.313,.181),(.370,.181),(.379,.181),(.386,.184),(.422,.182),(.111,.177),
(.349,.175),(.136,.172),(.294,.174),(.338,.171),(.071,.168),(.399,.168),(.321,.167),(.480,.168),(.428,.161),(.209,.159),
(.470,.159),(.412,.161),(.178,.160),(.185,.161),(.170,.157),(.046,.156),(.373,.158),(.302,.157),(.126,.152),(.305,.152),
(.342,.151),(.412,.149),(.411,.147),(.244,.149),(.250,.147),(.153,.148),(.371,.146),(.384,.146),(.391,.145),(.440,.146),
(.433,.146),(.222,.144),(.478,.142),(.329,.142),(.152,.135),(.339,.135),(.345,.135),(.348,.133),(.116,.136),(.430,.133),
(.263,.133),(.363,.132),(.466,.133),(.460,.129),(.339,.125),(.279,.125),(.362,.121),(.461,.121),(.281,.116),(.301,.118),
(.446,.116),(.480,.123),(.110,.113),(.099,.109),(.409,.110),(.329,.109),(.335,.102),(.430,.106),(.454,.101),(.413,.095),
(.384,.097),(.450,.091),(.358,.090),(.266,.088),(.328,.089),(.088,.087),(.285,.084),(.384,.085),(.376,.079),(.381,.081),
(.057,.077),(.221,.077),(.269,.074),(.306,.075),(.440,.073),(.444,.072),(.454,.072),(.043,.064),(.154,.063),(.177,.062),
(.191,.070),(.407,.071),(.389,.066),(.396,.061),(.432,.056),(.160,.051),(.216,.053),(.390,.052),(.465,.053),(.282,.050),
(.264,.044),(.276,.043),(.379,.045),(.408,.043),(.073,.033),(.144,.033),(.210,.034),(.440,.035),(.455,.025),(.388,.025),
(.393,.019),(.358,.018),(.437,.014),(.462,.019),(.460,.014),(.473,.020),(.012,.010),(.069,.012),(.076,.013),(.297,.008),
(.380,.009),(.001,.003),(.248,.003),(.248,.002),(.181,.002),(.430,.001),(.394,.007),(.479,.506),(.476,.493),(.494,.495),
(.498,.490),(.503,.485),(.497,.478),(.493,.473),(.504,.480),(.505,.471),(.513,.472),(.469,.472),(.523,.463),(.538,.457),
(.492,.454),(.499,.455),(.504,.455),(.522,.434),(.527,.434),(.537,.435),(.538,.429),(.535,.424),(.528,.417),(.503,.428),
(.466,.435),(.486,.418),(.492,.416),(.543,.413),(.546,.408),(.520,.408),(.492,.398),(.533,.392),(.567,.380),(.535,.378),
(.538,.376),(.501,.375),(.507,.364),(.544,.361),(.545,.360),(.461,.363),(.480,.350),(.504,.341),(.473,.332),(.511,.329),
(.513,.328),(.533,.337),(.548,.332),(.572,.336),(.554,.328),(.568,.323),(.543,.321),(.560,.317),(.620,.338),(.595,.322),
(.606,.311),(.649,.330),(.638,.323),(.634,.317),(.660,.314),(.654,.306),(.504,.311),(.535,.309),(.466,.300),(.524,.295),
(.516,.291),(.519,.284),(.481,.290),(.483,.287),(.699,.290),(.691,.281),(.465,.279),(.465,.271),(.568,.278),(.635,.277),
(.621,.267),(.491,.269),(.506,.265),(.508,.263),(.466,.264),(.480,.264),(.484,.262),(.520,.259),(.532,.259),(.560,.256),
(.475,.249),(.481,.246),(.702,.247),(.682,.236),(.629,.239),(.625,.235),(.506,.237),(.509,.236),(.535,.238),(.520,.231),
(.520,.226),(.477,.231),(.592,.225),(.632,.222),(.761,.228),(.764,.229),(.704,.228),(.699,.215),(.648,.217),(.543,.217),
(.549,.209),(.559,.205),(.764,.205),(.499,.197),(.622,.197),(.638,.199),(.641,.193),(.650,.192),(.603,.194),(.489,.192),
(.800,.190),(.560,.185),(.516,.184),(.522,.183),(.543,.181),(.748,.184),(.780,.181),(.756,.171),(.486,.180),(.503,.179),
(.630,.179),(.650,.176),(.633,.169),(.480,.169),(.537,.167),(.469,.159),(.498,.160),(.504,.160),(.556,.162),(.712,.159),
(.771,.158),(.612,.156),(.574,.150),(.585,.151),(.598,.149),(.641,.152),(.556,.148),(.524,.149),(.529,.149),(.537,.148),
(.713,.147),(.479,.142),(.507,.140),(.500,.137),(.607,.139),(.682,.140),(.575,.136),(.534,.140),(.538,.136),(.542,.138),
(.465,.133),(.531,.129),(.537,.133),(.595,.130),(.655,.130),(.697,.131),(.772,.131),(.788,.133),(.790,.131),(.484,.122),
(.519,.122),(.591,.120),(.700,.119),(.616,.113),(.495,.111),(.767,.113),(.697,.111),(.585,.107),(.572,.110),(.740,.106),
(.614,.103),(.621,.104),(.496,.101),(.746,.097),(.503,.092),(.553,.091),(.786,.091),(.609,.088),(.889,.089),(.624,.076),
(.513,.071),(.492,.072),(.648,.068),(.520,.061),(.559,.061),(.465,.054),(.486,.057),(.766,.055),(.698,.050),(.683,.047),
(.624,.043),(.723,.038),(.830,.041),(.556,.040),(.561,.042),(.564,.039),(.621,.032),(.665,.029),(.490,.029),(.592,.027),
(.506,.025),(.624,.025),(.491,.020),(.473,.020),(.573,.019),(.758,.022),(.832,.022),(.964,.019),(.553,.013),(.599,.012),
(.657,.011),(.767,.011),(.734,.008),(.575,.002),(.767,.001),(.462,.018),
]

uniform = np.array(uniform_pts)
corner = np.vstack([np.array(corner_pts), np.array(corner_clump_pts),
                    np.column_stack([np.zeros(len(corner_left_y)), corner_left_y]),
                    np.column_stack([corner_bottom_x, np.zeros(len(corner_bottom_x))])])
near = np.array(near_uniform_pts)

W, H = 3666, 1184
fig = plt.figure(figsize=(W / 100, H / 100), dpi=100)

# axes box in pixels: left, right
boxes = [(78.7, 1144.7), (1323.6, 2385.3), (2569, 3635)]
top, bottom = 101, 1099.6

for box, pts, title in zip(boxes, [uniform, corner, near], titles):
    ax = fig.add_axes([box[0] / W, 1 - bottom / H, (box[1] - box[0]) / W, (bottom - top) / H])
    ax.plot(pts[:, 0], pts[:, 1], 'o', mfc='none', mec='k', ms=10.6, mew=1.5, clip_on=False, zorder=3)
    ax.set_xlim(0, 1)
    ax.set_ylim(0, 1)
    ax.set_xticks(x_ticks)
    ax.set_xticklabels(x_tick_labels)
    ax.set_yticks(y_ticks)
    ax.set_yticklabels(y_tick_labels)
    ax.tick_params(direction='in', top=True, right=True, length=8, width=1, labelsize=27, pad=9)
    ax.tick_params(axis='x', pad=12)
    for s in ax.spines.values():
        s.set_linewidth(1.3)
    ax.set_title(title, fontsize=27.5, pad=27)

fig.savefig('out.png', dpi=100)
